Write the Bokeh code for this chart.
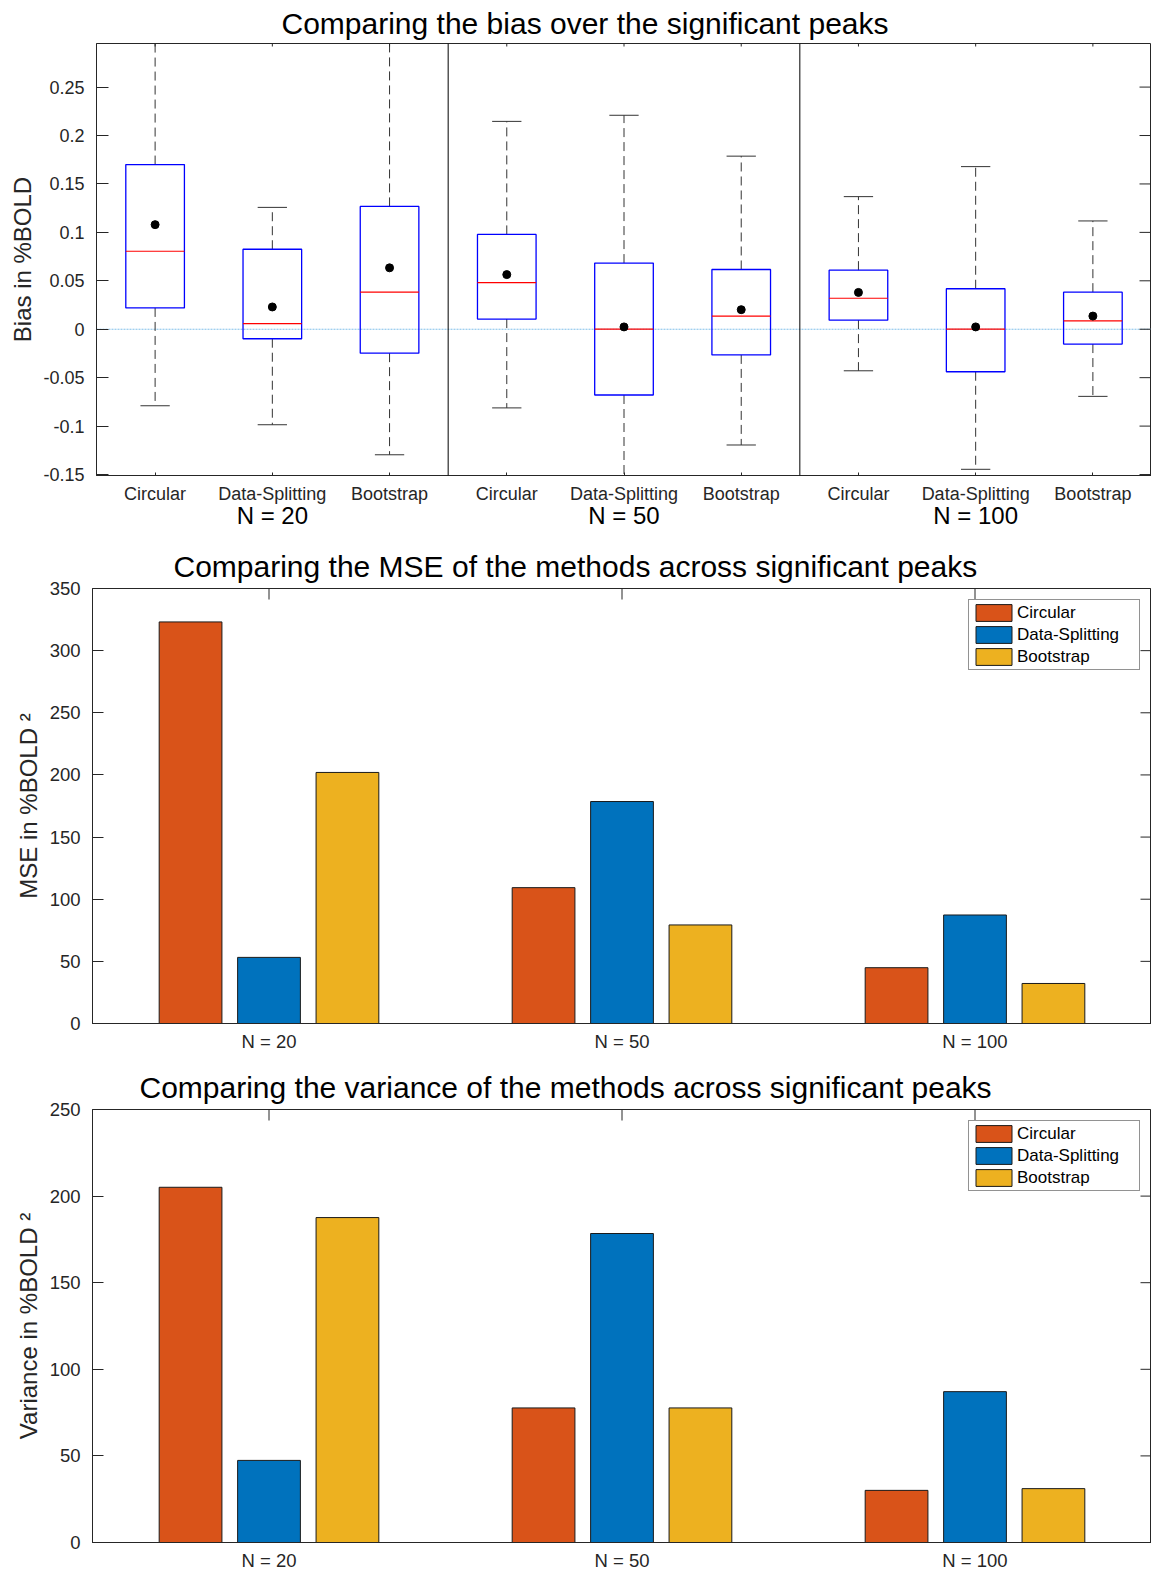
import math
from bokeh.plotting import figure
from bokeh.models import FixedTicker, LinearAxis, Span, ColumnDataSource
from bokeh.layouts import column, row
from bokeh.embed import file_html
from bokeh.resources import INLINE

# ---------------- data ----------------
methods = ["Circular", "Data-Splitting", "Bootstrap"]
sample_sizes = ["N = 20", "N = 50", "N = 100"]

# box plot statistics, order: (N=20: C, DS, B), (N=50: ...), (N=100: ...)
bias_q1 = [0.022, -0.0098, -0.0247, 0.0105, -0.0679, -0.0265, 0.0094, -0.0439, -0.0153]
bias_median = [0.0805, 0.0059, 0.0383, 0.0481, 0.0002, 0.0136, 0.032, 0.0002, 0.0087]
bias_q3 = [0.170, 0.0826, 0.1268, 0.0979, 0.0683, 0.0617, 0.061, 0.0418, 0.0383]
bias_lower = [-0.079, -0.0986, -0.1296, -0.0812, -0.175, -0.1195, -0.0429, -0.1446, -0.0693]
bias_upper = [0.33, 0.1258, 0.32, 0.2146, 0.2209, 0.1787, 0.1369, 0.1679, 0.1118]
bias_mean = [0.108, 0.023, 0.0634, 0.0564, 0.0024, 0.0202, 0.038, 0.0024, 0.0136]
bias_ticks = [-0.15, -0.1, -0.05, 0, 0.05, 0.1, 0.15, 0.2, 0.25]
bias_tick_labels = ["-0.15", "-0.1", "-0.05", "0", "0.05", "0.1", "0.15", "0.2", "0.25"]

mse_circular = [323.1, 109.3, 44.9]
mse_splitting = [53.2, 178.6, 87.3]
mse_bootstrap = [202.0, 79.3, 32.2]
mse_ticks = [0, 50, 100, 150, 200, 250, 300, 350]

var_circular = [205.1, 77.7, 30.1]
var_splitting = [47.4, 178.4, 87.1]
var_bootstrap = [187.6, 77.7, 31.1]
var_ticks = [0, 50, 100, 150, 200, 250]

colors = ["#D95319", "#0072BD", "#EDB120"]

# ---------------- styles ----------------
FONT = "Liberation Sans"
AX = "#262626"
W = 1151


def base_axes(p):
    p.grid.visible = False
    p.outline_line_color = AX
    p.outline_line_width = 1
    p.background_fill_color = "white"
    p.border_fill_color = "white"
    for ax in list(p.xaxis) + list(p.yaxis):
        ax.axis_line_color = AX
        ax.major_tick_line_color = AX
        ax.minor_tick_in = 0
        ax.minor_tick_out = 0
        ax.major_tick_out = 0
        ax.major_label_text_font = FONT
        ax.major_label_text_color = AX


def set_title(p, text, offset, standoff):
    p.title.text = text
    p.title.text_font = FONT
    p.title.text_font_size = "30px"
    p.title.text_font_style = "normal"
    p.title.text_color = "black"
    p.title.align = "left"
    p.title.offset = offset
    p.title.standoff = standoff


# ---------------- panel 1: box plots ----------------
n_m = len(methods)
n_g = len(sample_sizes)
positions = list(range(1, n_m * n_g + 1))
x_lo, x_hi = 0.5, n_m * n_g + 0.5
y_lo, y_hi = -0.151, 0.295

p1 = figure(width=W, height=535, x_range=(x_lo, x_hi), y_range=(y_lo, y_hi),
            output_backend="svg", toolbar_location=None,
            min_border_left=96, min_border_right=0, min_border_top=43, min_border_bottom=60)
base_axes(p1)
set_title(p1, "Comparing the bias over the significant peaks", 185, 7)

yax = p1.yaxis[0]
yax.ticker = FixedTicker(ticks=bias_ticks)
yax.major_label_overrides = {t: l for t, l in zip(bias_ticks, bias_tick_labels)}
yax.major_tick_in = 12
yax.major_label_standoff = 12
yax.major_label_text_font_size = "18px"
yax.axis_label = "Bias in %BOLD"
yax.axis_label_text_font = FONT
yax.axis_label_text_font_size = "24px"
yax.axis_label_text_font_style = "normal"
yax.axis_label_text_color = AX
yax.axis_label_standoff = 4

xax = p1.xaxis[0]
xax.ticker = FixedTicker(ticks=positions)
xax.major_label_overrides = {pos: m for pos, m in zip(positions, methods * n_g)}
xax.major_tick_in = 3
xax.major_label_standoff = 8
xax.major_label_text_font_size = "18px"

group_centers = [n_m * g + (n_m + 1) / 2 for g in range(n_g)]
gax = LinearAxis(ticker=FixedTicker(ticks=group_centers),
                 major_label_overrides={c: s for c, s in zip(group_centers, sample_sizes)},
                 axis_line_color=None, major_tick_in=0, major_tick_out=0,
                 minor_tick_in=0, minor_tick_out=0, major_label_standoff=-5,
                 major_label_text_font=FONT, major_label_text_font_size="24px",
                 major_label_text_color="black")
p1.add_layout(gax, "below")

p1.add_layout(Span(location=0, dimension="width", line_color="#7FBFEA",
                   line_dash="2 1", line_width=1, level="underlay"))
for g in range(1, n_g):
    p1.add_layout(Span(location=n_m * g + 0.5, dimension="height",
                       line_color="black", line_width=1))

BOX_HALF = 0.25
CAP_HALF = 0.125
src = ColumnDataSource(dict(
    x=positions,
    left=[x - BOX_HALF for x in positions], right=[x + BOX_HALF for x in positions],
    cl=[x - CAP_HALF for x in positions], cr=[x + CAP_HALF for x in positions],
    q1=bias_q1, q3=bias_q3, med=bias_median, lo=bias_lower, hi=bias_upper, mean=bias_mean,
))
p1.segment(x0="x", x1="x", y0="q3", y1="hi", source=src, line_color="#333333",
           line_dash="9 5", line_width=1)
p1.segment(x0="x", x1="x", y0="q1", y1="lo", source=src, line_color="#333333",
           line_dash="9 5", line_width=1)
p1.segment(x0="cl", x1="cr", y0="hi", y1="hi", source=src, line_color="#333333", line_width=1)
p1.segment(x0="cl", x1="cr", y0="lo", y1="lo", source=src, line_color="#333333", line_width=1)
p1.quad(left="left", right="right", bottom="q1", top="q3", source=src,
        fill_color=None, line_color="#0000FF", line_width=1.3)
p1.segment(x0="left", x1="right", y0="med", y1="med", source=src,
           line_color="#FF0000", line_width=1.2)
p1.scatter(x="x", y="mean", source=src, size=8, fill_color="black", line_color="black")

# inward ticks on top and right edges
p1.scatter(x=positions, y=[y_hi] * len(positions), marker="dash", angle=math.pi / 2,
           size=6, line_color=AX, line_width=1)
p1.scatter(x=[x_hi] * len(bias_ticks), y=bias_ticks, marker="dash", size=24,
           line_color=AX, line_width=1)


# ---------------- panels 2 & 3: grouped bars ----------------
def bar_panel(title, title_offset, series, ticks, ymax, ylabel,
              height, top, bottom, xlab_standoff):
    groups = list(range(1, n_g + 1))
    p = figure(width=W, height=height, x_range=(0.5, n_g + 0.5), y_range=(0, ymax),
               output_backend="svg", toolbar_location=None,
               min_border_left=92, min_border_right=0, min_border_top=top,
               min_border_bottom=bottom)
    base_axes(p)
    set_title(p, title, title_offset, 12)

    ya = p.yaxis[0]
    ya.ticker = FixedTicker(ticks=ticks)
    ya.major_tick_in = 11
    ya.major_label_standoff = 12
    ya.major_label_text_font_size = "18.5px"
    ya.axis_label = ylabel
    ya.axis_label_text_font = FONT
    ya.axis_label_text_font_size = "24px"
    ya.axis_label_text_font_style = "normal"
    ya.axis_label_text_color = AX
    ya.axis_label_standoff = 5

    xa = p.xaxis[0]
    xa.ticker = FixedTicker(ticks=groups)
    xa.major_label_overrides = {g: s for g, s in zip(groups, sample_sizes)}
    xa.major_tick_in = 0
    xa.major_label_standoff = xlab_standoff
    xa.major_label_text_font_size = "18.5px"

    group_width = min(0.8, n_m / (n_m + 1.5))
    bar_w = group_width / n_m * 0.8
    for i, (name, vals) in enumerate(zip(methods, series)):
        off = (i - (n_m - 1) / 2) * group_width / n_m
        p.vbar(x=[g + off for g in groups], top=vals, width=bar_w, bottom=0,
               fill_color=colors[i], line_color="#1a1a1a", line_width=1,
               legend_label=name)

    lg = p.legend[0]
    lg.location = "top_right"
    lg.margin = 11
    lg.padding = 2
    lg.spacing = 1
    lg.glyph_width = 45
    lg.glyph_height = 21
    lg.label_height = 21
    lg.label_width = 120
    lg.label_standoff = 1
    lg.label_text_font = FONT
    lg.label_text_font_size = "17px"
    lg.label_text_color = "black"
    lg.border_line_color = AX
    lg.border_line_width = 1
    lg.background_fill_color = "white"
    lg.background_fill_alpha = 1.0

    # inward ticks on top and right edges
    p.scatter(x=groups, y=[ymax] * len(groups), marker="dash", angle=math.pi / 2,
              size=22, line_color=AX, line_width=1)
    p.scatter(x=[n_g + 0.5] * len(ticks), y=ticks, marker="dash", size=22,
              line_color=AX, line_width=1)
    return p


p2 = bar_panel("Comparing the MSE of the methods across significant peaks", 81,
               [mse_circular, mse_splitting, mse_bootstrap], mse_ticks, 350,
               "MSE in %BOLD \u00b2", 520, 53, 32, 7)
p3 = bar_panel("Comparing the variance of the methods across significant peaks", 47,
               [var_circular, var_splitting, var_bootstrap], var_ticks, 250,
               "Variance in %BOLD \u00b2", 518, 54, 30, 7)

layout = column(row(p1), row(p2), row(p3))
open("out.html", "w").write(file_html(layout, INLINE))
